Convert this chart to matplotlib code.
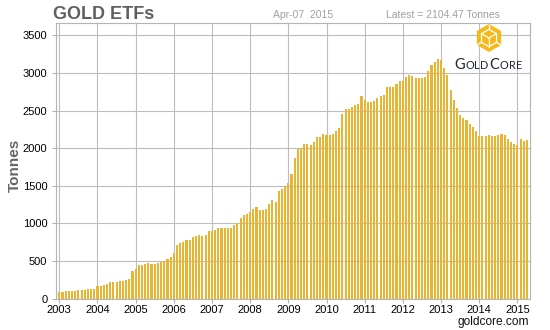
import matplotlib
matplotlib.use("Agg")
import matplotlib.pyplot as plt
import numpy as np
from matplotlib.patches import Polygon

plt.rcParams['font.family'] = ['Liberation Sans', 'DejaVu Sans']

# Monthly gold ETF holdings (tonnes), Jan 2003 .. Apr 2015
start_year = 2003
tonnes_2003 = [89, 85, 97, 100, 100, 100, 111, 113, 113, 124, 124, 124]
tonnes_2004 = [168, 170, 181, 195, 220, 220, 220, 232, 233, 248, 261, 365]
tonnes_2005 = [392, 447, 447, 461, 470, 461, 461, 470, 483, 507, 525, 560]
tonnes_2006 = [603, 710, 736, 750, 778, 778, 815, 831, 844, 833, 844, 898]
tonnes_2007 = [898, 911, 936, 936, 936, 936, 936, 978, 1000, 1070, 1112, 1126]
tonnes_2008 = [1152, 1190, 1214, 1174, 1174, 1187, 1254, 1308, 1281, 1428, 1455, 1495]
tonnes_2009 = [1535, 1656, 1871, 1991, 2004, 2057, 2057, 2044, 2084, 2151, 2151, 2190]
tonnes_2010 = [2177, 2177, 2190, 2231, 2271, 2457, 2524, 2524, 2551, 2578, 2590, 2697]
tonnes_2011 = [2644, 2618, 2618, 2631, 2671, 2697, 2710, 2817, 2817, 2817, 2857, 2896]
tonnes_2012 = [2896, 2949, 2975, 2962, 2936, 2936, 2936, 2949, 3029, 3110, 3150, 3190]
tonnes_2013 = [3177, 3071, 2978, 2774, 2642, 2536, 2443, 2404, 2370, 2324, 2285, 2225]
tonnes_2014 = [2165, 2165, 2165, 2178, 2165, 2165, 2178, 2192, 2178, 2120, 2079, 2060]
tonnes_2015 = [2047, 2125, 2100, 2104.47]

tonnes = (tonnes_2003 + tonnes_2004 + tonnes_2005 + tonnes_2006 + tonnes_2007
          + tonnes_2008 + tonnes_2009 + tonnes_2010 + tonnes_2011 + tonnes_2012
          + tonnes_2013 + tonnes_2014 + tonnes_2015)
year_ticks = list(range(2003, 2016))
y_ticks = list(range(0, 3501, 500))
date_label = "Apr-07  2015"

W, H = 550, 330
fig = plt.figure(figsize=(W / 100, H / 100), dpi=100)


def fx(px):
    return px / W


def fy(py):
    return 1 - py / H


# main plot area
left, right, top, bottom = 55.7, 530, 23.3, 298.7
ax = fig.add_axes([fx(left), fy(bottom), fx(right - left), (bottom - top) / H])

x = start_year + np.arange(len(tonnes)) / 12.0
ax.bar(x, tonnes, width=0.055, color='#E8B434', linewidth=0, zorder=2)

ax.set_xlim(2002.906, 2015.33)
ax.set_ylim(0, 3660)
ax.set_xticks(year_ticks)
ax.set_xticklabels([str(y) for y in year_ticks])
ax.set_yticks(y_ticks)
ax.set_yticklabels([str(v) for v in y_ticks])
ax.set_axisbelow(True)
ax.grid(True, color='#bdbdbd', linewidth=0.8)
for s in ax.spines.values():
    s.set_color('#b4b4b4')
    s.set_linewidth(0.8)
ax.tick_params(axis='both', colors='#b4b4b4', length=3, width=0.8,
               labelsize=8, labelcolor='black', pad=3)
ax.tick_params(axis='x', pad=1.5)

# header texts
fig.text(fx(53), fy(19), "GOLD ETFs", fontsize=13, fontweight='bold',
         color='#5f5f5f', ha='left', va='baseline')
fig.text(fx(273), fy(18.5), date_label, fontsize=7.5, color='#a0a0a0',
         ha='left', va='baseline')
fig.text(fx(500), fy(18.5), "Latest = %.2f Tonnes" % tonnes[-1], fontsize=7.5,
         color='#a0a0a0', ha='right', va='baseline')

fig.text(fx(15), fy(165), "Tonnes", fontsize=11, fontweight='bold',
         color='#666666', rotation=90, ha='center', va='center')
fig.text(fx(529), fy(325), "goldcore.com", fontsize=8.6, color='#111111',
         ha='right', va='baseline')

# logo overlay in pixel coordinates
ov = fig.add_axes([0, 0, 1, 1], zorder=5)
ov.set_xlim(0, W)
ov.set_ylim(H, 0)
ov.axis('off')
ov.patch.set_alpha(0)

cx, cy, R = 489, 38, 14
ang = np.deg2rad(np.arange(90, 450, 60))
hexv = np.column_stack([cx + R * np.cos(ang), cy - R * np.sin(ang)])
ov.add_patch(Polygon(hexv, closed=True, facecolor='#F5B919', edgecolor='none'))


def vert(r, deg):
    a = np.deg2rad(deg)
    return cx + r * np.cos(a), cy - r * np.sin(a)


lw = 0.9
pts = [vert(R * 0.62, d) for d in range(90, 451, 60)]
ov.plot([p[0] for p in pts], [p[1] for p in pts], color='white', lw=lw)
for d in (150, 30, 270):
    p = vert(R * 0.62, d)
    ov.plot([cx, p[0]], [cy, p[1]], color='white', lw=lw)
for d in (90, 210, 330):
    p0 = vert(R * 0.62, d)
    p1 = vert(R * 0.95, d)
    ov.plot([p0[0], p1[0]], [p0[1], p1[1]], color='white', lw=lw)

# small-caps wordmark
renderer = fig.canvas.get_renderer()
pieces = [("G", 10.5), ("OLD", 7.8), ("C", 10.5), ("ORE", 7.8)]
xpos = 454.0
track = 0.5
for txt, size in pieces:
    for ch in txt:
        t = ov.text(xpos, 69, ch, fontsize=size, color='#1d2735',
                    family=['Lato', 'DejaVu Sans'], ha='left', va='baseline')
        bb = t.get_window_extent(renderer=renderer)
        xpos += bb.width + track

fig.savefig("out.png", dpi=100)
